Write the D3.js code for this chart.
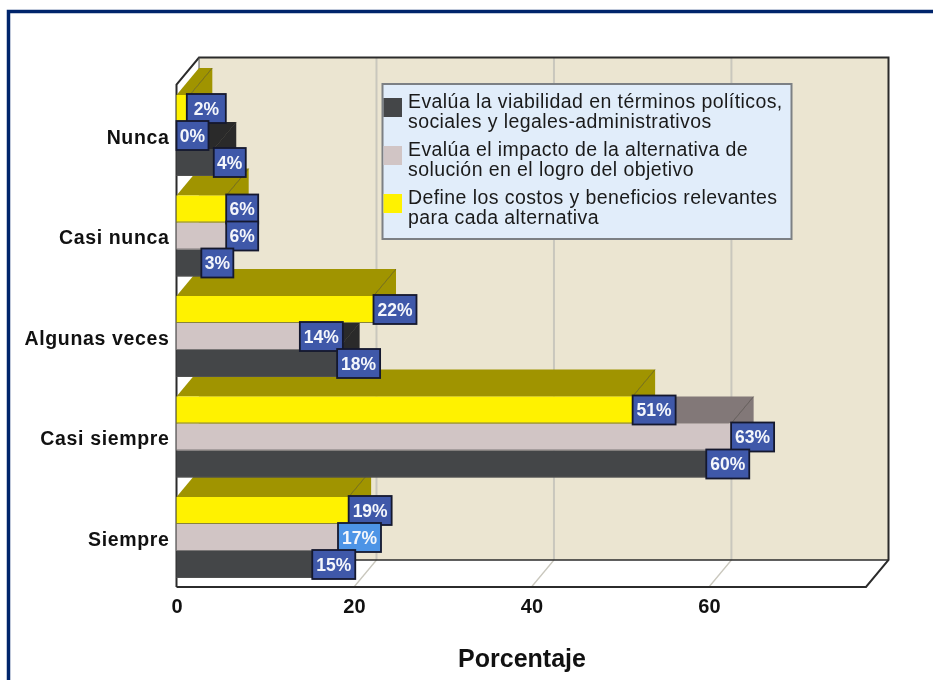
<!DOCTYPE html>
<html><head><meta charset="utf-8">
<script src="https://cdn.jsdelivr.net/npm/d3@7"></script>
<style>
html,body{margin:0;padding:0;background:#fff;overflow:hidden}
svg{display:block;filter:blur(.45px)}
text{font-family:"Liberation Sans",Arial,sans-serif}
</style></head><body><div id="chart"></div>
<script>
const categories = ["Nunca","Casi nunca","Algunas veces","Casi siempre","Siempre"];
const seriesNames = ["Define","Impacto","Viabilidad"];
const defineValues =     [1.5, 5.6, 22.2, 51.4, 19.4];
const impactoValues =    [0,   5.6, 13.9, 62.5, 18.2];
const viabilidadValues = [4.2, 2.8, 18.1, 59.7, 15.3];
const defineLabels =     ["2%","6%","22%","51%","19%"];
const impactoLabels =    ["0%","6%","14%","63%","17%"];
const viabilidadLabels = ["4%","3%","18%","60%","15%"];
const xTicks = [0,20,40,60];
const legendLines = [
  ["Evalúa la viabilidad en términos políticos,","sociales y legales-administrativos"],
  ["Evalúa el impacto de la alternativa de","solución en el logro del objetivo"],
  ["Define los costos y beneficios relevantes","para cada alternativa"]
];
const frontColors = {Define:"#fff200",Impacto:"#d1c5c5",Viabilidad:"#444648"};
const topColors = {Define:"#a09400",Impacto:"#827878",Viabilidad:"#2a2a2a"};
const valueMap = {Define:defineValues,Impacto:impactoValues,Viabilidad:viabilidadValues};
const labelMap = {Define:defineLabels,Impacto:impactoLabels,Viabilidad:viabilidadLabels};

const W=933,H=680, dx=22.5, dy=27;
const pL=176.5,pR=866,pT=84.5,pB=587;
const svg=d3.select("#chart").append("svg").attr("width",W).attr("height",H);
const x=d3.scaleLinear().domain([0,77.7]).range([pL,pR]);
const y=d3.scaleBand().domain(categories).range([pT,pB]);
const inner=d3.scaleBand().domain(seriesNames).range([10.5,91.5]);
const poly=(g,pts,fill,stroke,sw)=>g.append("polygon").attr("points",pts.map(p=>p.join(",")).join(" "))
  .attr("fill",fill).attr("stroke",stroke||"none").attr("stroke-width",sw||1).attr("stroke-linejoin","round");

// frame
svg.append("rect").attr("x",8.5).attr("y",11.5).attr("width",W+20).attr("height",H+20)
  .attr("fill","#fff").attr("stroke","#00246b").attr("stroke-width",3.5);

// walls
const edge="#2b2b2b";
poly(svg,[[pL,pT],[pL+dx,pT-dy],[pL+dx,pB-dy],[pL,pB]],"#fff");
poly(svg,[[pL+dx,pT-dy],[pR+dx,pT-dy],[pR+dx,pB-dy],[pL+dx,pB-dy]],"#ebe5d1");
poly(svg,[[pL,pB],[pL+dx,pB-dy],[pR+dx,pB-dy],[pR,pB]],"#fff");
// grid
xTicks.slice(1).forEach(t=>{
  svg.append("line").attr("x1",x(t)+dx).attr("x2",x(t)+dx).attr("y1",pT-dy).attr("y2",pB-dy).attr("stroke","#c9c7bd").attr("stroke-width",2);
  svg.append("line").attr("x1",x(t)).attr("x2",x(t)+dx).attr("y1",pB).attr("y2",pB-dy).attr("stroke","#c9c7bd").attr("stroke-width",1.3);
});
// wall outlines
svg.append("path").attr("fill","none").attr("stroke",edge).attr("stroke-width",2)
  .attr("d",`M${pL},${pB}L${pL},${pT}L${pL+dx},${pT-dy}H${pR+dx}V${pB-dy}L${pR},${pB}H${pL}`);
svg.append("path").attr("fill","none").attr("stroke",edge).attr("stroke-width",1.6)
  .attr("d",`M${pL+dx},${pB-dy}H${pR+dx}`);
svg.append("path").attr("fill","none").attr("stroke","#555").attr("stroke-width",1)
  .attr("d",`M${pL+dx},${pT-dy}V${pT-dy+12}`);

// bars: lowest category first, then upward; series front-most last
const bars=svg.append("g");
[...categories].reverse().forEach(cat=>{
  const ci=categories.indexOf(cat);
  [...seriesNames].reverse().forEach(s=>{
    const v=valueMap[s][ci]; if(v<=0) return;
    const g=bars.append("g");
    const y0=y(cat)+inner(s), h=inner.bandwidth(), x1=x(v);
    poly(g,[[pL,y0],[pL+dx,y0-dy],[x1+dx,y0-dy],[x1,y0]],topColors[s]);
    poly(g,[[x1,y0],[x1+dx,y0-dy],[x1+dx,y0-dy+h],[x1,y0+h]],topColors[s]);
    g.append("line").attr("x1",x1).attr("y1",y0).attr("x2",x1+dx).attr("y2",y0-dy).attr("stroke","#000").attr("stroke-opacity",.35);
    g.append("rect").attr("x",pL).attr("y",y0).attr("width",x1-pL).attr("height",h)
      .attr("fill",frontColors[s]);
    g.append("line").attr("x1",pL).attr("x2",x1).attr("y1",y0+h-.5).attr("y2",y0+h-.5).attr("stroke","#555").attr("stroke-opacity",.7);
  });
});

// axes
const ax=svg.append("g").attr("transform",`translate(0,${pB})`).call(d3.axisBottom(x).tickValues(xTicks).tickSize(0).tickPadding(12));
ax.select(".domain").remove();
ax.selectAll("text").attr("font-size",20).attr("font-weight","bold").attr("fill","#111").attr("font-family",'"Liberation Sans",Arial,sans-serif');
const ay=svg.append("g").attr("transform",`translate(${pL},0)`).call(d3.axisLeft(y).tickSize(0).tickPadding(7));
ay.select(".domain").remove();
ay.selectAll("text").attr("font-size",19.5).attr("font-weight","bold").attr("letter-spacing",.65).attr("fill","#111").attr("font-family",'"Liberation Sans",Arial,sans-serif').attr("dy","0.36em")
  .attr("transform","translate(0,2)");
svg.append("text").attr("x",522).attr("y",667).attr("text-anchor","middle").attr("font-size",25).attr("font-weight","bold").attr("fill","#111").text("Porcentaje");

// value labels
const labels=svg.append("g");
categories.forEach((cat,ci)=>{
  seriesNames.forEach(s=>{
    const txt=labelMap[s][ci], v=valueMap[s][ci];
    const y0=y(cat)+inner(s), h=inner.bandwidth();
    const wide=(s==="Define"&&ci===0);
    const w=txt.length>2?43:(wide?39:32);
    const bx=x(v)+(wide?-3:0);
    const hot=(cat==="Siempre"&&s==="Impacto");
    labels.append("rect").attr("x",bx).attr("y",y0+h/2-14.5).attr("width",w).attr("height",29)
      .attr("fill",hot?"#4d94e6":"#3f58a9").attr("stroke","#14182e").attr("stroke-width",1.8);
    labels.append("text").attr("x",bx+w/2).attr("y",y0+h/2+6).attr("text-anchor","middle")
      .attr("font-size",17.5).attr("font-weight","bold").attr("fill","#f4f6fb").text(txt);
  });
});

// legend
const lg=svg.append("g");
lg.append("rect").attr("x",382.5).attr("y",84).attr("width",409).attr("height",155)
  .attr("fill","#e1edfa").attr("stroke","#7c8084").attr("stroke-width",2);
const swY=[98,146,194], lineY=[[108,128],[156,176],[204,224]];
seriesNames.slice().reverse().forEach((s,i)=>{
  lg.append("rect").attr("x",383.5).attr("y",swY[i]).attr("width",18.5).attr("height",19).attr("fill",frontColors[s]);
  legendLines[i].forEach((t,j)=>{
    lg.append("text").attr("x",408).attr("y",lineY[i][j]).attr("font-size",19.5).attr("letter-spacing",.42).attr("fill","#1a1a1a").text(t);
  });
});
</script></body></html>
